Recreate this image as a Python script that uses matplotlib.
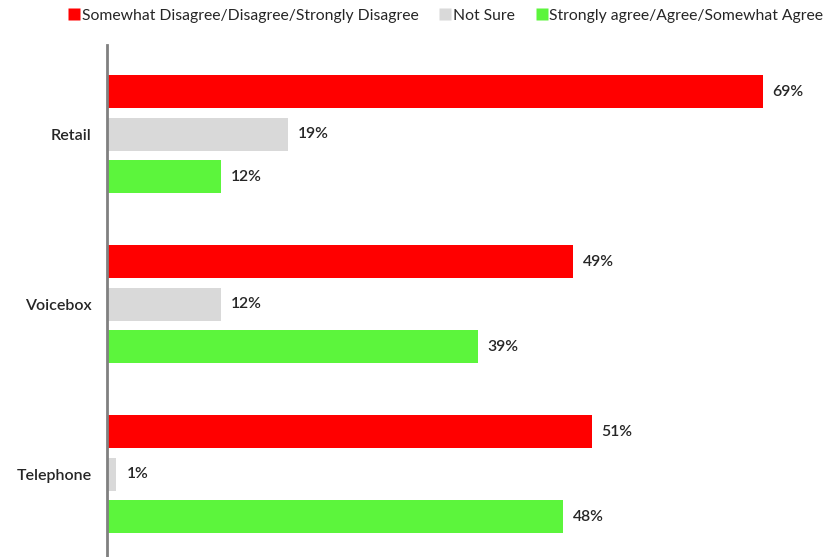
import numpy as np
import matplotlib.pyplot as plt
from matplotlib.lines import Line2D

plt.rcParams['font.family'] = ['Lato', 'DejaVu Sans']

channels = ["Retail", "Voicebox", "Telephone"]
series = [
    "Somewhat Disagree/Disagree/Strongly Disagree",
    "Not Sure",
    "Strongly agree/Agree/Somewhat Agree",
]
disagree = [69, 49, 51]
not_sure = [19, 12, 1]
agree = [12, 39, 48]
colors = ["#ff0000", "#d9d9d9", "#5cf53c"]

fig = plt.figure(figsize=(8.32, 5.57), dpi=100)
W, H = 832, 557
ax = fig.add_axes([107 / W, 0, (W - 107) / W, (557 - 45) / H])

y = np.arange(len(channels))
offsets = [-0.25, 0, 0.25]
bar_h = 0.194
text_color = "#262626"

for vals, off, col in zip([disagree, not_sure, agree], offsets, colors):
    bars = ax.barh(y + off, vals, height=bar_h, color=col, edgecolor="none")
    for b, v in zip(bars, vals):
        ax.text(b.get_width() + 1.05, b.get_y() + b.get_height() / 2, f"{v}%",
                va="center", ha="left", fontsize=11.3, color=text_color,
                fontweight="semibold")

ax.set_xlim(0, (W - 107) / 9.5)
ax.set_ylim(2.488, -0.526)
ax.set_yticks(y)
ax.set_yticklabels(channels, fontsize=11.5, color=text_color, fontweight="semibold")
ax.tick_params(axis="y", length=0, pad=11)
ax.set_xticks([])
for s in ["top", "right", "bottom"]:
    ax.spines[s].set_visible(False)
ax.spines["left"].set_color("#808080")
ax.spines["left"].set_linewidth(2)

handles = [Line2D([], [], marker="s", linestyle="none", markersize=8.5,
                  markerfacecolor=c, markeredgecolor="none") for c in colors]
fig.legend(handles, series, loc="upper right", bbox_to_anchor=(1.0, 1.0),
           ncol=3, frameon=False, fontsize=11.3, handletextpad=0.1,
           columnspacing=1.3, handlelength=0.8, borderaxespad=0.15,
           labelcolor=text_color)

fig.savefig("out.png", dpi=100)
